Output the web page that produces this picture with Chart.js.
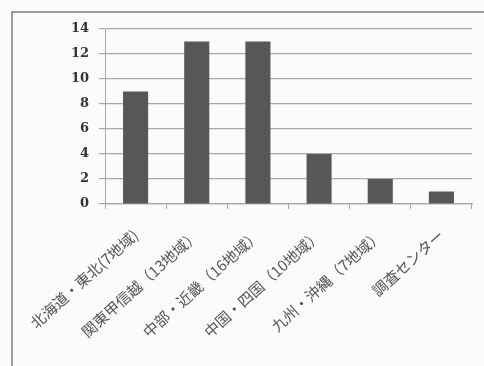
<!DOCTYPE html>
<html>
<head>
<meta charset="utf-8">
<script src="https://cdn.jsdelivr.net/npm/chart.js@4.4.1/dist/chart.umd.min.js"></script>
<style>
  html, body { margin: 0; padding: 0; background: #fbfbfa; }
  #wrap { position: relative; width: 484px; height: 366px; overflow: hidden; }
  #frame { position: absolute; left: 11px; top: 11px; width: 480px; height: 360px;
           border-left: 2px solid #9a9a9a; border-top: 2px solid #9a9a9a; }
  canvas { position: absolute; left: 0; top: 0; }
</style>
</head>
<body>
<div id="wrap">
  <div id="frame"></div>
  <canvas id="barChart" width="484" height="366"></canvas>
</div>
<script>
const categories = ['北海道・東北(7地域)', '関東甲信越（13地域）', '中部・近畿（16地域）', '中国・四国（10地域）', '九州・沖縄（7地域）', '調査センター'];
const counts = [9, 13, 13, 4, 2, 1];
const yMax = 14;
const yStep = 2;

document.addEventListener('DOMContentLoaded', () => {
  const ctx = document.getElementById('barChart').getContext('2d');
  new Chart(ctx, {
    type: 'bar',
    data: {
      labels: categories,
      datasets: [{
        data: counts,
        backgroundColor: '#575757',
        borderWidth: 0,
        barPercentage: 0.82,
        categoryPercentage: 0.5
      }]
    },
    options: {
      responsive: false,
      animation: false,
      layout: { padding: { left: 0, right: 12, top: 29, bottom: 0 } },
      plugins: { legend: { display: false }, tooltip: { enabled: false } },
      scales: {
        y: {
          min: 0, max: yMax,
          ticks: { stepSize: yStep, color: '#333', padding: 10,
                   font: { family: 'DejaVu Serif', size: 13, weight: 'bold' } },
          grid: { color: '#a8a8a8', lineWidth: 1.2, tickLength: 6 },
          border: { color: '#a8a8a8' },
          afterFit: (s) => { s.width = 105; }
        },
        x: {
          grid: { drawOnChartArea: false, color: '#a8a8a8', tickLength: 5, offset: true },
          border: { color: '#a8a8a8', width: 1.2 },
          ticks: { minRotation: 42, maxRotation: 42, color: '#555', padding: 17,
                   font: { family: 'Noto Sans CJK JP', size: 15 } },
          afterFit: (s) => { s.height = 162; }
        }
      }
    }
  });
});
</script>
</body>
</html>
